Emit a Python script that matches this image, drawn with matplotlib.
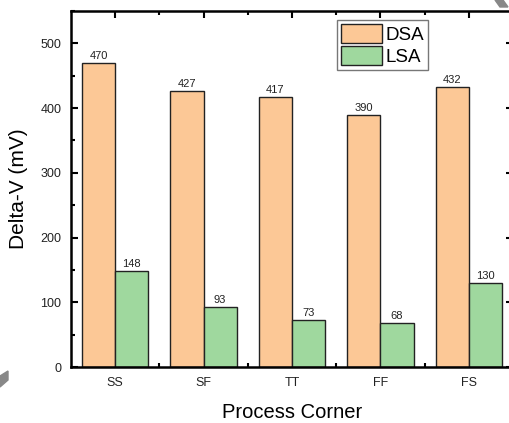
import numpy as np
import matplotlib
matplotlib.use("Agg")
import matplotlib.pyplot as plt
from matplotlib.ticker import MultipleLocator, FixedLocator
from matplotlib.patches import Polygon

corners = ["SS", "SF", "TT", "FF", "FS"]
dsa = [470, 427, 417, 390, 432]
lsa = [148, 93, 73, 68, 130]

plt.rcParams["font.family"] = ["Liberation Sans", "DejaVu Sans"]

W, H = 510, 423
fig = plt.figure(figsize=(W / 100, H / 100), dpi=100)
ax = fig.add_axes([71 / W, (H - 367) / H, (513 - 71) / W, (367 - 11) / H])

x = np.arange(len(corners))
bw = 0.375
c_dsa = "#fcc896"
c_lsa = "#9fd89e"
ax.bar(x - bw / 2, dsa, bw, color=c_dsa, edgecolor="#222222", linewidth=1.0, label="DSA", zorder=2)
ax.bar(x + bw / 2, lsa, bw, color=c_lsa, edgecolor="#222222", linewidth=1.0, label="LSA", zorder=2)

for xi, v in zip(x - bw / 2, dsa):
    ax.text(xi, v + 3, str(v), ha="center", va="bottom", fontsize=8, color="#222222")
for xi, v in zip(x + bw / 2, lsa):
    ax.text(xi, v + 3, str(v), ha="center", va="bottom", fontsize=8, color="#222222")

ax.set_xlim(-0.5, 4.5)
ax.set_ylim(0, 550)

ax.yaxis.set_major_locator(MultipleLocator(100))
ax.yaxis.set_minor_locator(MultipleLocator(50))
ax.xaxis.set_major_locator(FixedLocator(x))
ax.xaxis.set_minor_locator(FixedLocator(x[:-1] + 0.5))
ax.set_xticklabels(corners)

ax.tick_params(axis="both", which="major", direction="in", length=5, width=1.5,
               top=True, right=True, labelsize=9, colors="black", labelcolor="#222222")
ax.tick_params(axis="both", which="minor", direction="in", length=3, width=1.5,
               top=True, right=True)
ax.tick_params(axis="y", which="major", pad=7)
ax.tick_params(axis="x", which="major", pad=7)

for s in ax.spines.values():
    s.set_linewidth(1.8)

ax.set_xlabel("Process Corner", fontsize=14.5, labelpad=10)
ax.set_ylabel("Delta-V (mV)", fontsize=15, labelpad=9)

leg = ax.legend(loc="upper left", bbox_to_anchor=((337 - 71) / (513 - 71), 1 - 9 / 356),
                fontsize=13.5, frameon=True, fancybox=False, edgecolor="#555555",
                handlelength=2.2, handleheight=1.2, handletextpad=0.2,
                borderpad=0.2, labelspacing=0.12, borderaxespad=0)
leg.get_frame().set_linewidth(1.0)

# grey corner strokes
fig.patches.append(Polygon([[495 / W, 1.0], [503 / W, 1.0], [508 / W, 1 - 7 / H], [500 / W, 1 - 7 / H]],
                           closed=True, transform=fig.transFigure, color="#888888", zorder=5))
fig.patches.append(Polygon([[0, 1 - 376 / H], [8 / W, 1 - 371 / H], [8 / W, 1 - 380 / H], [0, 1 - 387 / H]],
                           closed=True, transform=fig.transFigure, color="#888888", zorder=5))

fig.savefig("out.png", dpi=100)
